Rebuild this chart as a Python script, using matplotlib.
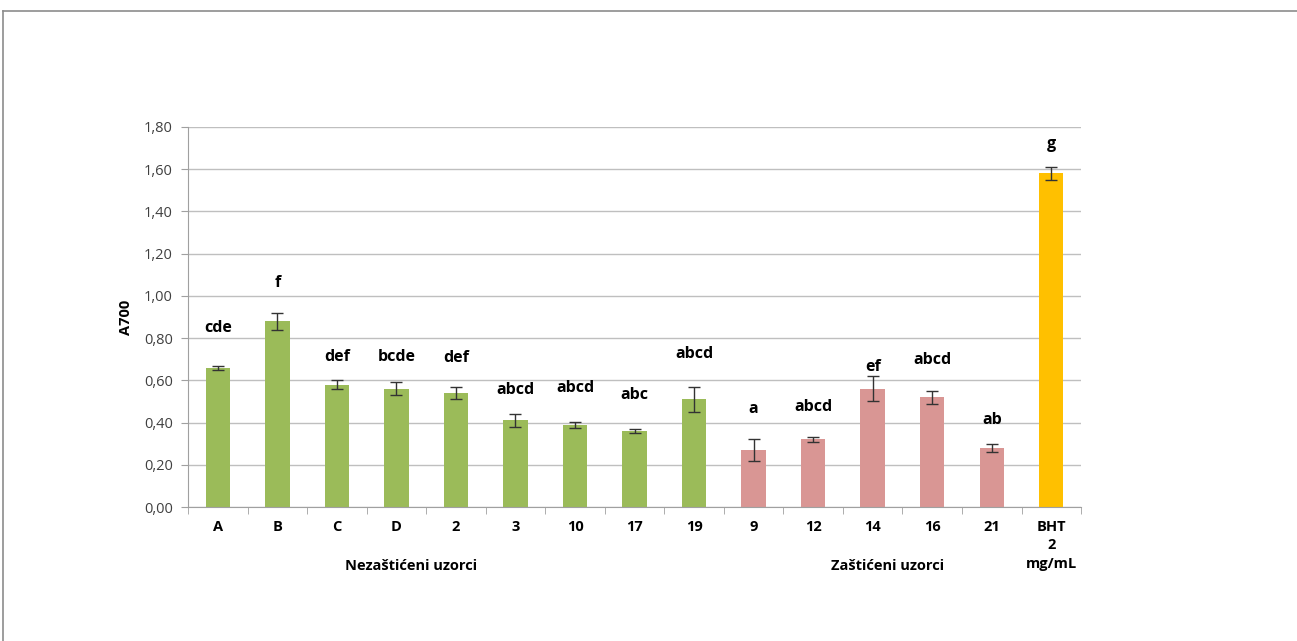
import matplotlib.pyplot as plt
from matplotlib.lines import Line2D

plt.rcParams['font.family'] = ['Open Sans', 'DejaVu Sans']

# data
categories = ['A', 'B', 'C', 'D', '2', '3', '10', '17', '19', '9', '12', '14', '16', '21', 'BHT\n2\nmg/mL']
values = [0.66, 0.88, 0.58, 0.56, 0.54, 0.41, 0.39, 0.36, 0.51, 0.27, 0.32, 0.56, 0.52, 0.28, 1.58]
errors = [0.01, 0.04, 0.02, 0.03, 0.03, 0.03, 0.015, 0.01, 0.06, 0.05, 0.01, 0.06, 0.03, 0.02, 0.03]
letters = ['cde', 'f', 'def', 'bcde', 'def', 'abcd', 'abcd', 'abc', 'abcd', 'a', 'abcd', 'ef', 'abcd', 'ab', 'g']
letter_y = [0.85, 1.06, 0.71, 0.71, 0.705, 0.555, 0.565, 0.53, 0.725, 0.465, 0.475, 0.665, 0.695, 0.41, 1.72]
groups = ['green'] * 9 + ['pink'] * 5 + ['orange']
group_labels = ['Nezaštićeni uzorci', 'Zaštićeni uzorci']

colors = {'green': '#9BBB59', 'pink': '#D99694', 'orange': '#FFC000'}

fig = plt.figure(figsize=(12.97, 6.41), dpi=100)
ax = fig.add_axes([0.145, 0.209, 0.6885, 0.593])

x = list(range(len(categories)))
ax.bar(x, values, width=0.41, color=[colors[g] for g in groups], zorder=2)
ax.errorbar(x, values, yerr=errors, fmt='none', ecolor='#333333', elinewidth=1, capsize=4, capthick=1, zorder=3)

for xi, lab, ly in zip(x, letters, letter_y):
    ax.text(xi, ly, lab, ha='center', va='center', fontsize=11.5, fontweight='bold', color='black')

ax.set_xlim(-0.5, len(categories) - 0.5)
ax.set_ylim(0, 1.8)
ax.set_yticks([i * 0.2 for i in range(10)])
ax.set_yticklabels([('%.2f' % (i * 0.2)).replace('.', ',') for i in range(10)], fontsize=10.5, color='#404040')
ax.yaxis.grid(True, color='#BFBFBF', linewidth=1, zorder=0)
ax.set_axisbelow(True)

ax.set_xticks(x)
ax.set_xticklabels(categories, fontsize=10.5, fontweight='bold', va='top', linespacing=1.45)
ax.tick_params(axis='x', length=0, pad=9)
ax.set_xticks([i - 0.5 for i in range(len(categories) + 1)], minor=True)
ax.tick_params(axis='x', which='minor', length=5, color='#A0A0A0')
ax.tick_params(axis='y', length=5, color='#A0A0A0', pad=6)

for s in ['top', 'right']:
    ax.spines[s].set_visible(False)
ax.spines['left'].set_color('#A0A0A0')
ax.spines['bottom'].set_color('#A0A0A0')

ax.set_ylabel('A700', fontsize=10.5, fontweight='bold', labelpad=8)

ax.text(3.25, -0.28, group_labels[0], ha='center', va='center', fontsize=10.5, fontweight='bold')
ax.text(11.25, -0.28, group_labels[1], ha='center', va='center', fontsize=10.5, fontweight='bold')

# frame of the chart area
fig.add_artist(Line2D([3 / 1297, 3 / 1297], [0, 1 - 11 / 641], color='#8C8C8C', linewidth=1.2))
fig.add_artist(Line2D([3 / 1297, 1], [1 - 11 / 641, 1 - 11 / 641], color='#8C8C8C', linewidth=1.2))

fig.savefig('out.png', dpi=100)
